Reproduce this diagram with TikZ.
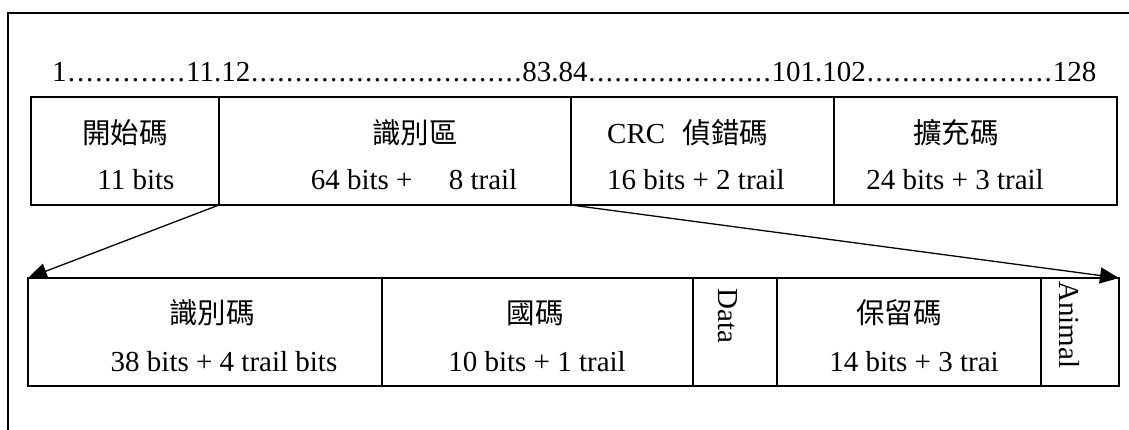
\documentclass[tikz,border=0pt]{standalone}
\usepackage{fontspec}
\setmainfont{Liberation Serif}
\newfontfamily\cjk{Noto Sans CJK TC}
\usetikzlibrary{arrows.meta}
\newcommand\dotsto[1]{\hbox to #1{\xleaders\hbox to 0.3em{\hss.\hss}\hfill}}
\begin{document}
\begin{tikzpicture}[x=1pt,y=-1pt,
  cell/.style={draw, line width=1.5pt, rectangle, inner sep=0pt, outer sep=0pt, minimum height=108pt, anchor=north west},
  txt/.style={inner sep=0pt, font=\fontsize{29}{34}\selectfont},
  zh/.style={inner sep=0pt, font=\fontsize{28.5}{34}\selectfont\cjk},
  arr/.style={line width=1.3pt, -{Triangle[length=19pt,width=16pt]}},
  frameline/.style={line width=1.3pt}]
\useasboundingbox (0,0) rectangle (1129,430);
% frame
\coordinate (fTR) at (1129,13);
\coordinate (fTL) at (8,13);
\coordinate (fBL) at (8,430);
\draw[frameline] (fTR) -- (fTL) -- (fBL);
% ruler
\node[txt, anchor=base west] (ruler) at (52,82) {1\dotsto{119.5pt}11.12\dotsto{272pt}83.84\dotsto{184pt}101.102\dotsto{187pt}128};
% top row
\node[cell, minimum width=188pt] (c1) at (31,97) {};
\node[cell, minimum width=352pt] (c2) at (219,97) {};
\node[cell, minimum width=263pt] (c3) at (571,97) {};
\node[cell, minimum width=283pt] (c4) at (834,97) {};
% bottom row
\node[cell, minimum width=354pt] (d1) at (28,278) {};
\node[cell, minimum width=311pt] (d2) at (382,278) {};
\node[cell, minimum width=84pt] (d3) at (693,278) {};
\node[cell, minimum width=264pt] (d4) at (777,278) {};
\node[cell, minimum width=78pt] (d5) at (1041,278) {};
\draw[line width=2.6pt] (d3.north west) -- (d3.south west);
% arrows
\draw[arr] (c1.south east) -- (d1.north west);
\draw[arr] (c2.south east) -- (d5.north east);
% top texts
\node[zh, anchor=base] (t1a) at (125,144) {開始碼};
\node[txt, anchor=base] (t1b) at (136,190) {11 bits};
\node[zh, anchor=base] (t2a) at (415,144) {識別區};
\node[txt, anchor=base] (t2b) at (414,190) {64 bits +\hspace{1em} 8 trail};
\node[txt, anchor=base west] (t3a) at (607,144) {CRC\hspace{0.6em}{\cjk\fontsize{28.5}{34}\selectfont 偵錯碼}};
\node[txt, anchor=base west] (t3b) at (607,190) {16 bits + 2 trail};
\node[zh, anchor=base] (t4a) at (956,144) {擴充碼};
\node[txt, anchor=base] (t4b) at (955,190) {24 bits + 3 trail};
% bottom texts
\node[zh, anchor=base] (u1a) at (212,323) {識別碼};
\node[txt, anchor=base] (u1b) at (224,371) {38 bits + 4 trail bits};
\node[zh, anchor=base] (u2a) at (535,323) {國碼};
\node[txt, anchor=base] (u2b) at (537,371) {10 bits + 1 trail};
\node[txt, rotate=-90, anchor=base west] (u3) at (718,288) {Data};
\node[zh, anchor=base] (u4a) at (899,323) {保留碼};
\node[txt, anchor=base] (u4b) at (914,371) {14 bits + 3 trai};
\node[txt, rotate=-90, anchor=base west] (u5) at (1059,281) {Animal};
\end{tikzpicture}
\end{document}
